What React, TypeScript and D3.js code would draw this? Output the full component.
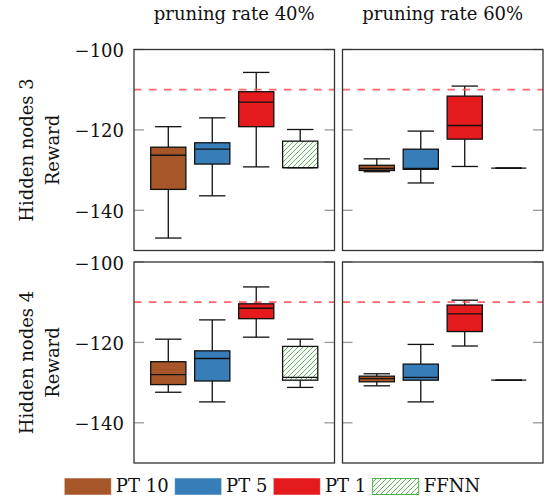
import React from 'react';
import * as d3 from 'd3';

const categories = ['PT 10', 'PT 5', 'PT 1', 'FFNN'];
const colors = ['#a65628', '#377eb8', '#e41a1c', '#4daf4a'];
const rateLabels = ['pruning rate 40%', 'pruning rate 60%'];
const nodeLabels = ['Hidden nodes 3', 'Hidden nodes 4'];
const yLabel = 'Reward';
const yTicks = [-100, -120, -140];
const yDomain = [-150, -100];
const targetReward = -110;

// [lower whisker, q1, median, q3, upper whisker] per category
const h3r40 = [
  [-146.9, -134.8, -126.3, -124.3, -119.2],
  [-136.4, -128.5, -124.8, -123.2, -117.0],
  [-129.2, -119.2, -113.1, -110.5, -105.7],
  [-129.4, -129.4, -129.4, -122.8, -119.9],
];
const h3r60 = [
  [-130.4, -130.1, -129.6, -128.8, -127.2],
  [-133.2, -129.8, -129.6, -124.8, -120.3],
  [-129.1, -122.3, -118.9, -111.6, -109.1],
  [-129.5, -129.5, -129.5, -129.5, -129.5],
];
const h4r40 = [
  [-132.4, -130.5, -128.0, -124.8, -119.2],
  [-134.8, -129.6, -124.0, -122.1, -114.4],
  [-118.7, -114.1, -111.5, -110.4, -106.2],
  [-131.2, -129.4, -128.7, -121.0, -119.2],
];
const h4r60 = [
  [-130.8, -129.8, -129.0, -128.4, -127.8],
  [-134.8, -129.4, -128.7, -125.4, -120.5],
  [-120.9, -117.3, -112.9, -110.7, -109.5],
  [-129.4, -129.4, -129.4, -129.4, -129.4],
];
const panelRows = [
  [h3r40, h3r60],
  [h4r40, h4r60],
];

const FONT = '"DejaVu Serif", serif';
const FS = 18;
const W = 545;
const H = 498;
const left0 = 134;
const panelW = 200.5;
const hgap = 8;
const top0 = 49.5;
const panelH = 201;
const vgap = 11.5;

function measure(text: string) {
  const c = document.createElement('canvas').getContext('2d');
  if (!c) return text.length * 10;
  c.font = `${FS}px ${FONT}`;
  return c.measureText(text).width;
}

function Panel({ data, x0, y0, showLabels }: { data: number[][]; x0: number; y0: number; showLabels: boolean }) {
  const x = d3.scaleBand<string>().domain(categories).range([x0, x0 + panelW]).paddingInner(0).paddingOuter(0.28);
  const y = d3.scaleLinear().domain(yDomain).range([y0 + panelH, y0]);
  const bw = x.bandwidth();
  const boxW = bw * 0.8;
  const capW = bw * 0.6;
  return (
    <g>
      <rect x={x0} y={y0} width={panelW} height={panelH} fill="white" />
      {yTicks.map((t) => (
        <g key={t}>
          <line x1={x0} x2={x0 + 10} y1={y(t)} y2={y(t)} stroke="#999" strokeWidth={1.3} />
          <line x1={x0 + panelW - 10} x2={x0 + panelW} y1={y(t)} y2={y(t)} stroke="#999" strokeWidth={1.3} />
          {showLabels && (
            <text x={x0 - 10} y={y(t) + 7.5} textAnchor="end" fontFamily={FONT} fontSize={FS} fill="#111">
              {'\u2212' + Math.abs(t)}
            </text>
          )}
        </g>
      ))}
      {data.map((s, i) => {
        const cx = (x(categories[i]) as number) + bw / 2;
        const [lo, q1, med, q3, hi] = s;
        const fill = i === 3 ? 'url(#hatch)' : colors[i];
        return (
          <g key={i} stroke="#111" strokeWidth={1.3}>
            <line x1={cx} x2={cx} y1={y(hi)} y2={y(q3)} />
            <line x1={cx} x2={cx} y1={y(q1)} y2={y(lo)} />
            <line x1={cx - capW / 2} x2={cx + capW / 2} y1={y(hi)} y2={y(hi)} />
            <line x1={cx - capW / 2} x2={cx + capW / 2} y1={y(lo)} y2={y(lo)} />
            {i === 3 && <rect x={cx - boxW / 2} y={y(q3)} width={boxW} height={y(q1) - y(q3)} fill="white" stroke="none" />}
            <rect x={cx - boxW / 2} y={y(q3)} width={boxW} height={y(q1) - y(q3)} fill={fill} />
            <line x1={cx - boxW / 2} x2={cx + boxW / 2} y1={y(med)} y2={y(med)} />
          </g>
        );
      })}
      <line
        x1={x0}
        x2={x0 + panelW}
        y1={y(targetReward)}
        y2={y(targetReward)}
        stroke="#ff5555"
        strokeOpacity={0.9}
        strokeWidth={1.8}
        strokeDasharray="7.5 7.5"
      />
      <rect x={x0} y={y0} width={panelW} height={panelH} fill="none" stroke="#333" strokeWidth={1.3} />
    </g>
  );
}

export default function App() {
  const widths = categories.map((c) => measure(c));
  const swW = 46;
  const gapST = 5;
  const gapItem = 6.5;
  const total = widths.reduce((a, b) => a + b, 0) + categories.length * (swW + gapST) + (categories.length - 1) * gapItem;
  let lx = W / 2 - total / 2;
  const legendItems = categories.map((c, i) => {
    const item = { c, i, x: lx };
    lx += swW + gapST + widths[i] + gapItem;
    return item;
  });

  return (
    <svg width={W} height={H} style={{ position: 'absolute', left: 0, top: 0, background: 'white' }}>
      <defs>
        <pattern id="hatch" patternUnits="userSpaceOnUse" width={5} height={5}>
          <rect width={5} height={5} fill="white" />
          <path d="M0,5 L5,0 M-1,1 L1,-1 M4,6 L6,4" stroke="#4daf4a" strokeWidth={0.9} />
        </pattern>
      </defs>
      {rateLabels.map((r, j) => (
        <text
          key={r}
          x={left0 + j * (panelW + hgap) + panelW / 2}
          y={19.5}
          textAnchor="middle"
          fontFamily={FONT}
          fontSize={FS}
          fill="#111"
        >
          {r}
        </text>
      ))}
      {panelRows.map((row, ri) => {
        const y0 = top0 + ri * (panelH + vgap);
        const cy = y0 + panelH / 2;
        return (
          <g key={ri}>
            <text transform={`translate(32.5,${cy}) rotate(-90)`} textAnchor="middle" fontFamily={FONT} fontSize={FS} fill="#111">
              {nodeLabels[ri]}
            </text>
            <text transform={`translate(59,${cy}) rotate(-90)`} textAnchor="middle" fontFamily={FONT} fontSize={FS} fill="#111">
              {yLabel}
            </text>
            {row.map((data, ci) => (
              <Panel key={ci} data={data} x0={left0 + ci * (panelW + hgap)} y0={y0} showLabels={ci === 0} />
            ))}
          </g>
        );
      })}
      {legendItems.map(({ c, i, x }) => (
        <g key={c}>
          <rect
            x={x}
            y={478.5}
            width={swW}
            height={16}
            fill={i === 3 ? 'url(#hatch)' : colors[i]}
            stroke={colors[i]}
            strokeOpacity={i === 3 ? 1 : 0.5}
            strokeWidth={1}
          />
          <text x={x + swW + gapST} y={492} fontFamily={FONT} fontSize={FS} fill="#111">
            {c}
          </text>
        </g>
      ))}
    </svg>
  );
}
